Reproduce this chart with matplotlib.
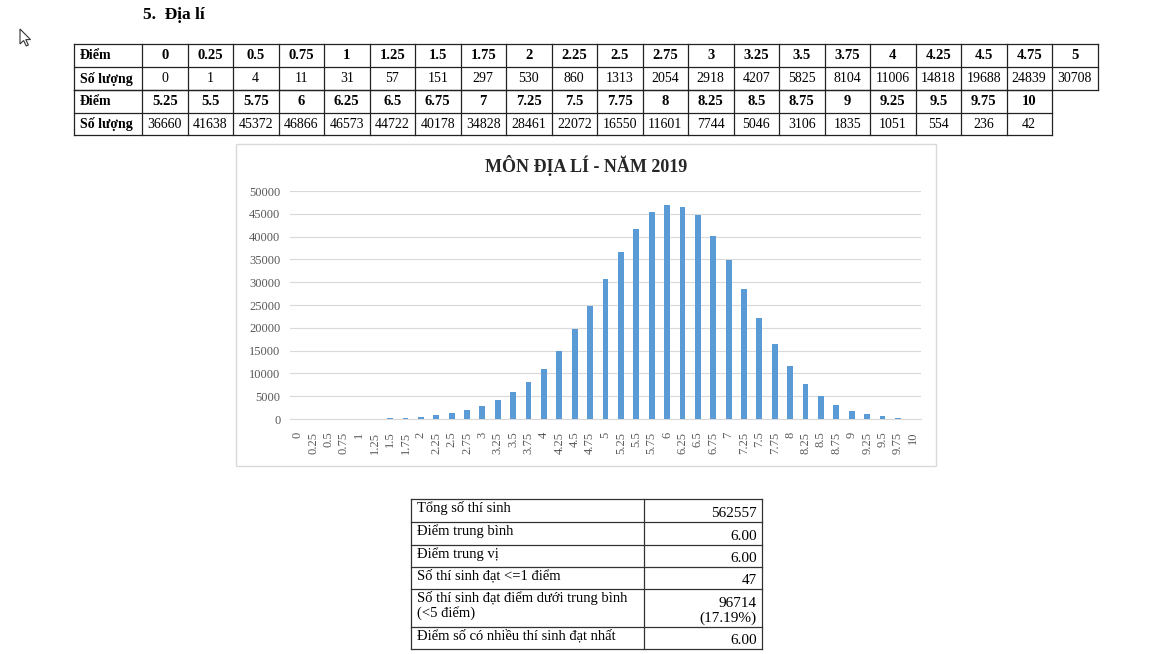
import matplotlib

matplotlib.use("Agg")
import matplotlib.pyplot as plt
from matplotlib.patches import Polygon, Rectangle

plt.rcParams["font.family"] = ["Liberation Serif", "DejaVu Serif"]

# score categories and number of candidates
scores = [
    "0", "0.25", "0.5", "0.75", "1", "1.25", "1.5", "1.75", "2", "2.25",
    "2.5", "2.75", "3", "3.25", "3.5", "3.75", "4", "4.25", "4.5", "4.75",
    "5", "5.25", "5.5", "5.75", "6", "6.25", "6.5", "6.75", "7", "7.25",
    "7.5", "7.75", "8", "8.25", "8.5", "8.75", "9", "9.25", "9.5", "9.75",
    "10",
]
counts = [
    0, 1, 4, 11, 31, 57, 151, 297, 530, 860,
    1313, 2054, 2918, 4207, 5825, 8104, 11006, 14818, 19688, 24839,
    30708, 36660, 41638, 45372, 46866, 46573, 44722, 40178, 34828, 28461,
    22072, 16550, 11601, 7744, 5046, 3106, 1835, 1051, 554, 236,
    42,
]
y_ticks = [0, 5000, 10000, 15000, 20000, 25000, 30000, 35000, 40000, 45000, 50000]

summary_labels = [
    "Tổng số thí sinh",
    "Điểm trung bình",
    "Điểm trung vị",
    "Số thí sinh đạt <=1 điểm",
    "Số thí sinh đạt điểm dưới trung bình\n(<5 điểm)",
    "Điểm số có nhiều thí sinh đạt nhất",
]
summary_values = ["562557", "6.00", "6.00", "47", "96714\n(17.19%)", "6.00"]

W, H = 1162, 654
fig = plt.figure(figsize=(W / 100, H / 100), dpi=100)
page = fig.add_axes([0, 0, 1, 1])
page.set_xlim(0, W)
page.set_ylim(H, 0)
page.axis("off")

# heading and mouse cursor
page.text(143, 15, "5.  Địa lí", fontsize=12.5, fontweight="bold", va="center")
cursor = [(0, 0), (0, 15), (3.6, 11.5), (6.3, 17), (8.4, 16), (5.8, 10.6), (10.5, 10.6)]
page.add_patch(Polygon([(20 + x, 29 + y) for x, y in cursor], closed=True,
                       facecolor="white", edgecolor="#333333", linewidth=0.8))

# top table: two blocks of score / count rows
left, label_w, col_w = 74, 68, 45.5
row_y = [44, 67, 90, 113, 135]
blocks = [(scores[:21], counts[:21]), (scores[21:], counts[21:])]
for b, (s_vals, c_vals) in enumerate(blocks):
    top, mid, bottom = row_y[2 * b], row_y[2 * b + 1], row_y[2 * b + 2]
    right = left + label_w + col_w * len(s_vals)
    for y in (top, mid, bottom):
        page.plot([left, right], [y, y], color="#222222", lw=0.9)
    page.plot([left, left], [top, bottom], color="#222222", lw=0.9)
    page.plot([left + label_w, left + label_w], [top, bottom], color="#222222", lw=0.9)
    page.text(left + 6, (top + mid) / 2, "Điểm", fontsize=10, fontweight="bold",
              ha="left", va="center")
    page.text(left + 6, (mid + bottom) / 2, "Số lượng", fontsize=10, fontweight="bold",
              ha="left", va="center")
    for i, (s, c) in enumerate(zip(s_vals, c_vals)):
        x0 = left + label_w + col_w * i
        page.plot([x0 + col_w, x0 + col_w], [top, bottom], color="#222222", lw=0.9)
        page.text(x0 + col_w / 2, (top + mid) / 2, s, fontsize=10.5, fontweight="bold",
                  ha="center", va="center")
        page.text(x0 + col_w / 2, (mid + bottom) / 2, str(c), fontsize=10,
                  ha="center", va="center")

# chart frame and title
page.add_patch(Rectangle((236, 144), 700, 322, facecolor="white",
                         edgecolor="#d9d9d9", linewidth=1))
page.text(586, 166, "MÔN ĐỊA LÍ - NĂM 2019", fontsize=13, fontweight="bold",
          ha="center", va="center", color="#262626")

ax = fig.add_axes([290 / W, (H - 419) / H, 631 / W, 228 / H])
ax.bar(range(len(scores)), counts, width=0.38, color="#5B9BD5", zorder=3)
ax.set_xlim(-0.5, len(scores) - 0.5)
ax.set_ylim(0, 50000)
ax.set_yticks(y_ticks)
ax.set_yticklabels([str(v) for v in y_ticks])
ax.set_xticks(range(len(scores)))
ax.set_xticklabels(scores, rotation=90)
ax.tick_params(length=0, labelsize=9, labelcolor="#595959")
ax.tick_params(axis="y", pad=7)
ax.tick_params(axis="x", pad=9)
ax.grid(axis="y", color="#d9d9d9", linewidth=0.8, zorder=0)
for side in ("top", "right", "left"):
    ax.spines[side].set_visible(False)
ax.spines["bottom"].set_color("#d9d9d9")
ax.patch.set_alpha(0)

# summary table
t_left, t_mid, t_right = 411, 644, 762
t_rows = [499, 522, 545, 567, 589, 627, 649]
for y in t_rows:
    page.plot([t_left, t_right], [y, y], color="#333333", lw=0.9)
for x in (t_left, t_mid, t_right):
    page.plot([x, x], [t_rows[0], t_rows[-1]], color="#333333", lw=0.9)
for i, (lab, val) in enumerate(zip(summary_labels, summary_values)):
    top = t_rows[i]
    page.text(t_left + 6, top + 2, lab, fontsize=10.5, ha="left", va="top",
              linespacing=1.15)
    page.text(t_right - 5, t_rows[i + 1] - 2, val, fontsize=11, ha="right",
              va="bottom", linespacing=1.1, multialignment="right")

fig.savefig("out.png", dpi=100)
